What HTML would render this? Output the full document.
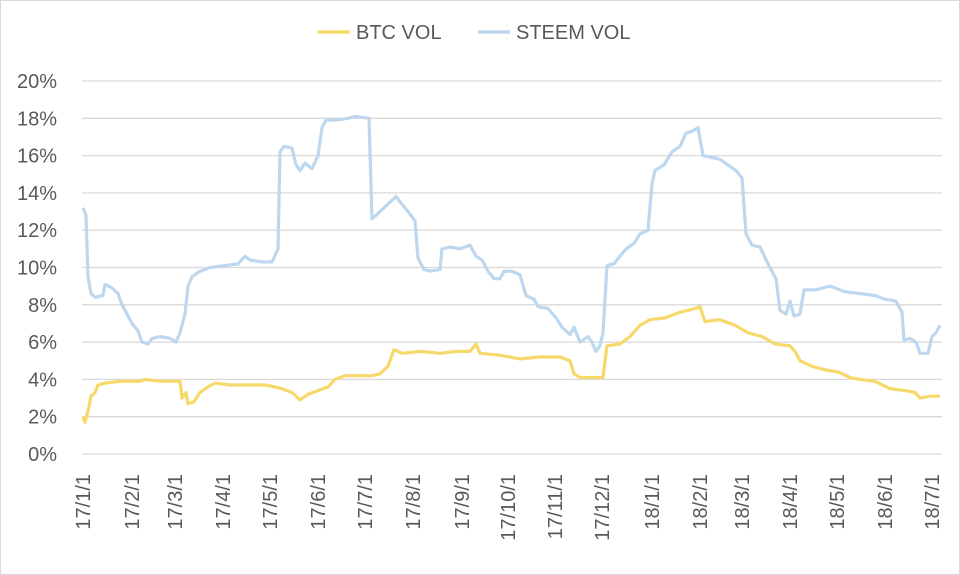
<!DOCTYPE html>
<html><head><meta charset="utf-8"><style>
body{margin:0;background:#fff}
svg{display:block;font-family:"Liberation Sans",sans-serif}
</style></head><body>
<svg id="c" width="960" height="575" viewBox="0 0 960 575">
<rect x="0.5" y="0.5" width="959" height="574" fill="#fff" stroke="#d9d9d9"/>
<g id="grid" stroke="#d9d9d9" stroke-width="1.3"></g>
<g id="yl" font-size="20" fill="#595959" text-anchor="end"></g>
<g id="xl" font-size="20" fill="#595959" text-anchor="end"></g>
<line x1="318" y1="32" x2="350" y2="32" stroke="#f7d96b" stroke-width="3.5"/>
<text x="356" y="39" font-size="20" fill="#595959">BTC VOL</text>
<line x1="478" y1="32" x2="510" y2="32" stroke="#bdd7ee" stroke-width="3.5"/>
<text x="516" y="39" font-size="20" fill="#595959">STEEM VOL</text>
<polyline id="s" fill="none" stroke="#bdd7ee" stroke-width="3.2" stroke-linejoin="round"/>
<polyline id="b" fill="none" stroke="#f7d96b" stroke-width="3.2" stroke-linejoin="round"/>
</svg>
<script>
var NS="http://www.w3.org/2000/svg";
function Y(v){return 454-v*18.65;}
var g=document.getElementById('grid'),yl=document.getElementById('yl'),xl=document.getElementById('xl');
for(var i=0;i<=10;i++){var y=Y(i*2);
var l=document.createElementNS(NS,'line');l.setAttribute('x1',82);l.setAttribute('x2',942);l.setAttribute('y1',y);l.setAttribute('y2',y);g.appendChild(l);
var t=document.createElementNS(NS,'text');t.setAttribute('x',57);t.setAttribute('y',y+7);t.textContent=(i*2)+'%';yl.appendChild(t);}
var labs=[["17/1/1",83],["17/2/1",132],["17/3/1",175],["17/4/1",223],["17/5/1",270],["17/6/1",318],["17/7/1",365],["17/8/1",413],["17/9/1",462],["17/10/1",508],["17/11/1",555],["17/12/1",602],["18/1/1",652],["18/2/1",700],["18/3/1",742],["18/4/1",790],["18/5/1",837],["18/6/1",885],["18/7/1",932]];
labs.forEach(function(a){var t=document.createElementNS(NS,'text');t.setAttribute('transform','translate('+(a[1]+7)+',474) rotate(-90)');t.textContent=a[0];xl.appendChild(t);});
var S=[83,13.2,86,12.8,88,9.5,91,8.6,95,8.4,103,8.5,105,9.1,112,8.9,118,8.6,122,8.0,127,7.5,132,7.0,138,6.6,142,6.0,148,5.9,152,6.2,160,6.3,170,6.2,176,6.0,180,6.5,185,7.5,188,9.0,192,9.5,200,9.8,210,10.0,225,10.1,238,10.2,245,10.6,250,10.4,262,10.3,272,10.3,278,11,280,16.2,284,16.5,292,16.4,296,15.5,300,15.2,305,15.6,312,15.3,318,16.0,322,17.5,326,17.9,335,17.9,348,18.0,356,18.1,369,18.0,372,12.6,376,12.8,382,13.1,390,13.5,396,13.8,402,13.4,408,13.0,415,12.5,418,10.5,424,9.9,430,9.8,440,9.9,442,11.0,450,11.1,460,11.0,470,11.2,476,10.6,482,10.4,488,9.8,494,9.4,500,9.4,504,9.8,512,9.8,520,9.6,526,8.5,534,8.3,538,7.9,548,7.8,556,7.3,562,6.8,570,6.4,574,6.8,580,6.0,588,6.3,592,6.0,596,5.5,600,5.8,603,6.5,607,10.1,614,10.2,620,10.6,626,11.0,634,11.3,640,11.8,648,12.0,652,14.5,655,15.2,664,15.5,672,16.2,680,16.5,686,17.2,692,17.3,698,17.5,703,16.0,712,15.9,720,15.8,728,15.5,736,15.2,742,14.8,746,11.8,752,11.2,760,11.1,768,10.2,776,9.4,780,7.7,786,7.5,790,8.2,794,7.4,800,7.5,804,8.8,815,8.8,830,9.0,845,8.7,860,8.6,875,8.5,885,8.3,896,8.2,902,7.6,904,6.1,910,6.2,916,6.0,920,5.4,928,5.4,932,6.3,936,6.5,940,6.9];
var B=[83,2.0,85,1.7,88,2.3,91,3.1,95,3.3,98,3.7,105,3.8,120,3.9,140,3.9,145,4.0,160,3.9,175,3.9,180,3.9,182,3.0,186,3.3,188,2.7,194,2.8,200,3.3,208,3.6,215,3.8,230,3.7,250,3.7,265,3.7,275,3.6,282,3.5,292,3.3,300,2.9,308,3.2,318,3.4,328,3.6,335,4.0,345,4.2,360,4.2,372,4.2,380,4.3,388,4.7,394,5.6,402,5.4,420,5.5,440,5.4,455,5.5,470,5.5,476,5.9,480,5.4,500,5.3,520,5.1,540,5.2,560,5.2,570,5.0,574,4.3,580,4.1,595,4.1,603,4.1,607,5.8,620,5.9,630,6.3,640,6.9,650,7.2,665,7.3,680,7.6,695,7.8,700,7.9,705,7.1,720,7.2,735,6.9,748,6.5,762,6.3,775,5.9,790,5.8,795,5.5,800,5.0,812,4.7,826,4.5,838,4.4,850,4.1,860,4.0,875,3.9,890,3.5,905,3.4,915,3.3,920,3.0,930,3.1,940,3.1];
function pts(a){var p=[];for(var i=0;i<a.length;i+=2)p.push(a[i]+','+Y(a[i+1]).toFixed(1));return p.join(' ');}
document.getElementById('s').setAttribute('points',pts(S));
document.getElementById('b').setAttribute('points',pts(B));
</script>
</body></html>
